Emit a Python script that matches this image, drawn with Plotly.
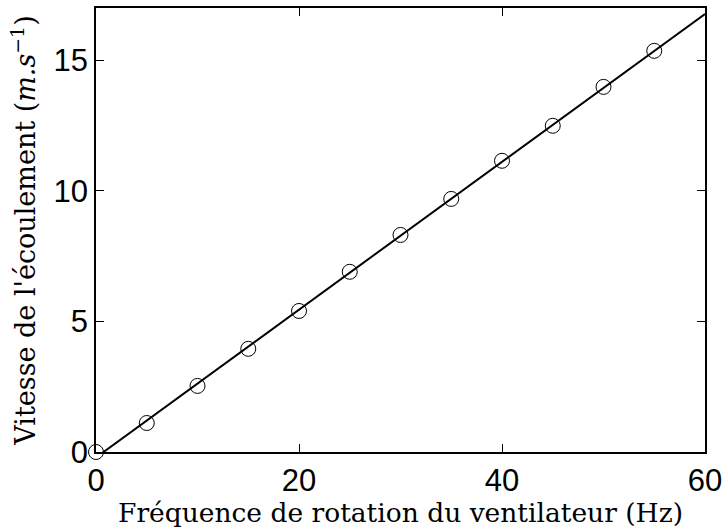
import numpy as np
import plotly.graph_objects as go

freq = [0, 5, 10, 15, 20, 25, 30, 35, 40, 45, 50, 55]
vitesse = [0.0, 1.11, 2.53, 3.95, 5.40, 6.90, 8.31, 9.69, 11.15, 12.49, 13.98, 15.36]
fit_x = [0, 60]

coef = np.polyfit(freq, vitesse, 1)
fit_y = list(np.polyval(coef, fit_x))

fig = go.Figure()
fig.add_trace(go.Scatter(x=fit_x, y=fit_y, mode="lines",
                         line=dict(color="black", width=2), showlegend=False))
fig.add_trace(go.Scatter(x=freq, y=vitesse, mode="markers",
                         marker=dict(symbol="circle-open", size=15, color="black",
                                     line=dict(width=1, color="black")),
                         showlegend=False, cliponaxis=False))

axis_common = dict(showline=True, linecolor="black", linewidth=1.5, mirror="ticks",
                   ticks="inside", ticklen=8, tickcolor="black", tickwidth=1,
                   showgrid=False, zeroline=False, automargin=False,
                   tickfont=dict(family="Liberation Sans, Arial", size=31, color="black"))

fig.update_xaxes(range=[0, 60], tickvals=[0, 20, 40, 60],
                 title=dict(text="Fréquence de rotation du ventilateur (Hz)",
                            font=dict(family="DejaVu Serif", size=26.5, color="black"),
                            standoff=8),
                 **axis_common)
fig.update_yaxes(range=[0, 17], tickvals=[0, 5, 10, 15],
                 title=dict(text="Vitesse de l'écoulement (<i>m.s</i><sup>−1</sup>)",
                            font=dict(family="DejaVu Serif", size=27, color="black"),
                            standoff=10),
                 **axis_common)

fig.update_layout(width=725, height=528, plot_bgcolor="white", paper_bgcolor="white",
                  margin=dict(l=96, r=20, t=8, b=76))

# remove the browser's default 8px body margin so the figure fills the window
fig.write_html("out.html", config={"displayModeBar": False},
               post_script="document.body.style.margin='0';document.body.style.overflow='hidden';")
